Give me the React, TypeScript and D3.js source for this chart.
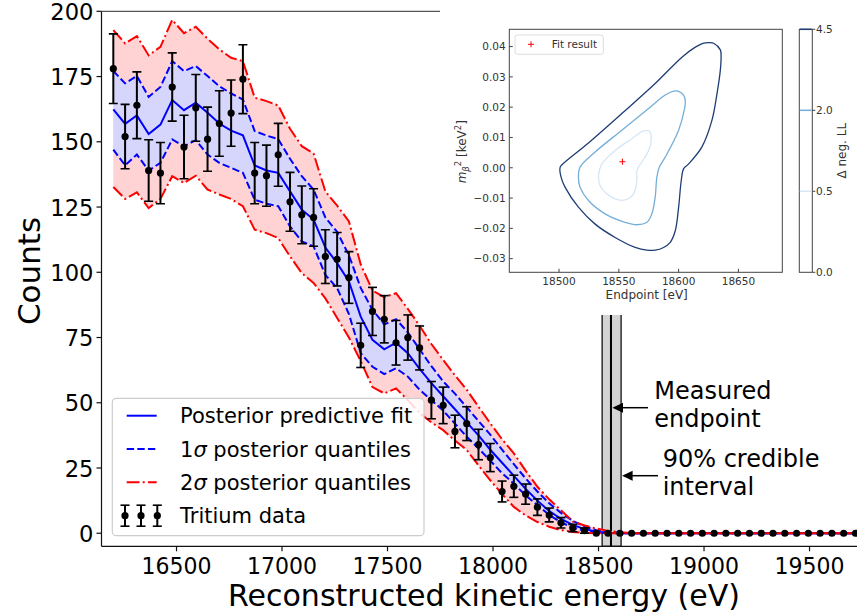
import React from 'react';
import * as d3 from 'd3';

// ---------- data ----------
const BIN_START = 16200.5;
const BIN_WIDTH = 55.83;

const counts = [178, 152, 164, 139, 138, 171, 148, 163, 151, 157, 161, 174, 138, 137, 145, 127, 122, 121, 106, 105,
  98, 72, 85, 82, 73, 75, 71, 51, 49, 39, 42, 34, 29, 16, 18, 15, 10, 7, 4, 2,
  1, 0, 0, 0, 0, 0, 0, 0, 0, 0, 0, 0, 0, 0, 0, 0, 0, 0, 0, 0,
  0, 0, 0, 0];

const fit = [162.4, 156.9, 160.1, 153.0, 156.6, 166.0, 162.1, 165.0, 161.1, 157.0, 154.3, 152.5, 140.9, 139.0, 138.1, 131.0, 124.0, 120.2, 109.5, 103.5,
  96.5, 83.0, 74.1, 70.5, 73.0, 69.0, 63.0, 57.5, 52.5, 47.5, 42.5, 37.5, 32.0, 27.0, 22.0, 17.0, 12.5, 8.5, 5.5, 3.2,
  1.6, 0.6, 0.2, 0, 0, 0, 0, 0, 0, 0, 0, 0, 0, 0, 0, 0, 0, 0, 0, 0,
  0, 0, 0, 0];

const sigma1High = [177.1, 172.4, 175.2, 167.2, 171.0, 180.9, 177.1, 179.0, 175.2, 171.3, 168.5, 166.2, 154.1, 152.4, 151.0, 143.5, 136.8, 131.7, 121.0, 115.5,
  106.5, 94.0, 85.6, 80.0, 82.0, 77.0, 70.5, 64.0, 58.2, 53.5, 48.3, 43.0, 37.8, 32.0, 26.5, 21.0, 16.0, 11.5, 7.8, 4.8,
  2.6, 1.2, 0.5, 0.2, 0, 0, 0, 0, 0, 0, 0, 0, 0, 0, 0, 0, 0, 0, 0, 0,
  0, 0, 0, 0];

const sigma1Low = [147.0, 141.0, 145.1, 139.0, 141.9, 150.9, 148.3, 150.6, 145.1, 141.9, 140.0, 138.1, 127.8, 126.3, 125.3, 117.6, 111.8, 109.9, 99.0, 93.9,
  84.0, 69.0, 63.8, 61.0, 63.2, 60.0, 55.0, 51.0, 47.0, 42.0, 37.0, 32.5, 27.8, 23.0, 19.0, 14.5, 10.8, 7.0, 4.2, 2.2,
  0.9, 0.3, 0.1, 0, 0, 0, 0, 0, 0, 0, 0, 0, 0, 0, 0, 0, 0, 0, 0, 0,
  0, 0, 0, 0];

const sigma2High = [192.8, 187.7, 190.5, 183.1, 186.4, 196.7, 191.6, 194.1, 189.5, 185.4, 182.2, 180.9, 166.9, 165.6, 163.9, 155.0, 148.3, 145.5, 131.0, 125.5,
  119.5, 103.0, 93.0, 90.5, 92.0, 86.0, 79.5, 72.5, 66.4, 60.5, 55.0, 48.5, 42.1, 36.0, 30.6, 24.0, 17.8, 13.0, 8.8, 4.5,
  3.0, 1.8, 0.9, 0.4, 0.1, 0, 0, 0, 0, 0, 0, 0, 0, 0, 0, 0, 0, 0, 0, 0,
  0, 0, 0, 0];

const sigma2Low = [132.7, 128.1, 130.6, 124.6, 128.1, 136.8, 134.2, 137.0, 131.7, 129.8, 128.1, 125.3, 116.3, 115.0, 113.1, 106.1, 99.7, 95.9, 90.0, 82.5,
  75.0, 66.0, 56.0, 53.6, 55.5, 51.0, 46.0, 42.5, 39.5, 35.5, 31.9, 26.0, 20.3, 15.0, 10.1, 6.8, 4.3, 2.5, 1.2, 0.5,
  0.2, 0, 0, 0, 0, 0, 0, 0, 0, 0, 0, 0, 0, 0, 0, 0, 0, 0, 0, 0,
  0, 0, 0, 0];

const xTicks = [16500, 17000, 17500, 18000, 18500, 19000, 19500];
const yTicks = [0, 25, 50, 75, 100, 125, 150, 175, 200];

const endpoint = 18559;
const credibleInterval = [18517, 18607];

// inset data: contour lines of delta neg. log-likelihood [endpoint eV, m^2 keV^2]
const contourLevels = [0.0, 0.5, 2.0, 4.5];
const contourColors = ['#ffffff', '#d6e6f5', '#74afd8', '#1f3d75'];
const contour05 = [[18533, -0.0025], [18535.8, 0.0013], [18546.9, 0.0057], [18560.9, 0.0096], [18570.7, 0.0122], [18575.7, 0.012],
  [18577.1, 0.0091], [18574.9, 0.0057], [18569.3, 0.0019], [18565.1, -0.0009], [18565.1, -0.0042], [18562.3, -0.0086],
  [18555.3, -0.0106], [18546.9, -0.0103], [18538.5, -0.0081], [18534.4, -0.0059]];
const contour20 = [[18516.2, -0.0031], [18517.6, 0.0002], [18530.2, 0.0052], [18552.5, 0.0124], [18574.9, 0.0196], [18588.8, 0.024],
  [18595.8, 0.0253], [18599.4, 0.0253], [18604.2, 0.024], [18605.6, 0.0218], [18605, 0.0196], [18600, 0.0124], [18588.8, 0.0035],
  [18583.8, 0.0002], [18581.8, -0.0031], [18580.4, -0.0097], [18577.6, -0.0152], [18573.5, -0.018], [18565.1, -0.0188],
  [18555.3, -0.018], [18538.5, -0.0152], [18524.6, -0.0108], [18517.6, -0.0064]];
const contour45 = [[18500.8, 0.0], [18502.2, 0.0009], [18524.6, 0.0082], [18552.5, 0.0179], [18580.4, 0.0278], [18602.8, 0.0365],
  [18614, 0.0398], [18620.9, 0.0411], [18626, 0.0413], [18629.3, 0.0411], [18634.9, 0.0389], [18635.5, 0.0367], [18634.9, 0.0323],
  [18632.1, 0.0245], [18627.9, 0.0157], [18619.5, 0.0069], [18608.4, 0.0013], [18604.2, -0.0003], [18602.2, -0.0042],
  [18600, -0.013], [18597.2, -0.0208], [18593, -0.0246], [18587.4, -0.0263], [18580.4, -0.0272], [18573.5, -0.0272],
  [18563.7, -0.0263], [18546.9, -0.023], [18530.2, -0.0186], [18516.2, -0.013], [18505, -0.0064], [18501.7, -0.0031]];
const fitResult = [18553, 0.002];
const insetXTicks = [18500, 18550, 18600, 18650];
const insetYTicks = [-0.03, -0.02, -0.01, 0.0, 0.01, 0.02, 0.03, 0.04];

// ---------- layout ----------
const W = 857;
const H = 613;
const FONT = 'DejaVu Sans';

export default function App() {
  const x = d3.scaleLinear().domain([16144.5, 19725]).range([101.5, 857]);
  const y = d3.scaleLinear().domain([-5, 200]).range([546.3, 11.3]);
  const energies = counts.map((_, i) => BIN_START + i * BIN_WIDTH);

  const area = (lo: number[], hi: number[]) =>
    d3.area<number>().x((_, i) => x(energies[i])).y0((_, i) => y(lo[i])).y1((_, i) => y(hi[i]))(lo) || '';
  const line = (v: number[]) => d3.line<number>().x((_, i) => x(energies[i])).y(d => y(d))(v) || '';

  const [x0, x1] = x.range();
  const [yb, yt] = y.range();

  // inset scales
  const ix = d3.scaleLinear().domain([18458.4, 18686.7]).range([509.3, 782.3]);
  const iy = d3.scaleLinear().domain([-0.0345, 0.0457]).range([272.3, 29.3]);
  const cb = d3.scaleLinear().domain([0, contourLevels.length - 1]).range([272.3, 29.3]);
  const cLine = d3.line<number[]>().x(d => ix(d[0])).y(d => iy(d[1])).curve(d3.curveCatmullRomClosed.alpha(0.5));
  const fmtY = (v: number) => (v < 0 ? '\u2212' : '') + Math.abs(v).toFixed(2);

  const legendRows = [415.7, 449, 482.3, 515.7];

  return (
    <svg width={W} height={H} style={{ position: 'absolute', left: 0, top: 0, background: '#fff' }} fontFamily={FONT}>
      <defs>
        <clipPath id="plotClip">
          <rect x={x0} y={yt} width={x1 - x0} height={yb - yt} />
        </clipPath>
      </defs>
      <rect x={0} y={0} width={W} height={H} fill="#fff" />

      <g clipPath="url(#plotClip)">
        {/* credible interval band */}
        <rect x={x(credibleInterval[0])} y={yt} width={x(endpoint) - x(credibleInterval[0])} height={yb - yt}
          fill="#d3d3d3" stroke="#000" strokeWidth={1.2} />
        <rect x={x(endpoint)} y={yt} width={x(credibleInterval[1]) - x(endpoint)} height={yb - yt}
          fill="#d3d3d3" stroke="#000" strokeWidth={1.2} />
        <line x1={x(endpoint)} x2={x(endpoint)} y1={yt} y2={yb} stroke="#000" strokeWidth={2} />

        {/* quantile bands */}
        <path d={area(sigma2Low, sigma2High)} fill="#ffd3d3" />
        <path d={area(sigma1Low, sigma1High)} fill="#d6d6fd" />
        <path d={line(fit)} fill="none" stroke="#0000ff" strokeWidth={2} />
        <path d={line(sigma1High)} fill="none" stroke="#0000ff" strokeWidth={2} strokeDasharray="7.4,3.2" />
        <path d={line(sigma1Low)} fill="none" stroke="#0000ff" strokeWidth={2} strokeDasharray="7.4,3.2" />
        <path d={line(sigma2High)} fill="none" stroke="#ff0000" strokeWidth={2} strokeDasharray="12.8,3.2,2,3.2" />
        <path d={line(sigma2Low)} fill="none" stroke="#ff0000" strokeWidth={2} strokeDasharray="12.8,3.2,2,3.2" />

        {/* data with Poisson error bars */}
        {counts.map((c, i) => {
          const cx = x(energies[i]);
          const e = Math.sqrt(c);
          return (
            <g key={i}>
              {c > 0 && (
                <g stroke="#000" strokeWidth={2}>
                  <line x1={cx} x2={cx} y1={y(c - e)} y2={y(c + e)} />
                  <line x1={cx - 4.5} x2={cx + 4.5} y1={y(c - e)} y2={y(c - e)} strokeWidth={1.6} />
                  <line x1={cx - 4.5} x2={cx + 4.5} y1={y(c + e)} y2={y(c + e)} strokeWidth={1.6} />
                </g>
              )}
              <circle cx={cx} cy={y(c)} r={3.6} fill="#000" />
            </g>
          );
        })}
      </g>

      {/* axes */}
      <line x1={x0} x2={x0} y1={yt} y2={yb} stroke="#111" strokeWidth={1.2} />
      <line x1={x0} x2={x1} y1={yb} y2={yb} stroke="#111" strokeWidth={1.2} />
      <line x1={x0} x2={x1} y1={yt} y2={yt} stroke="#555" strokeWidth={1.2} />
      {xTicks.map(t => (
        <g key={t}>
          <line x1={x(t)} x2={x(t)} y1={yb} y2={yb + 5} stroke="#111" strokeWidth={1.2} />
          <text x={x(t)} y={573.5} fontSize={23} textAnchor="middle" textLength={70} lengthAdjust="spacingAndGlyphs">{t}</text>
        </g>
      ))}
      {yTicks.map(t => (
        <g key={t}>
          <line x1={x0 - 5} x2={x0} y1={y(t)} y2={y(t)} stroke="#111" strokeWidth={1.2} />
          <text x={93.5} y={y(t) + 8.6} fontSize={23.5} textAnchor="end" textLength={String(t).length * 14.4}
            lengthAdjust="spacingAndGlyphs">{t}</text>
        </g>
      ))}
      <text x={484} y={606} fontSize={29.5} textAnchor="middle" textLength={512} lengthAdjust="spacingAndGlyphs">
        Reconstructed kinetic energy (eV)
      </text>
      <text transform="translate(40,271) rotate(-90)" fontSize={31} textAnchor="middle" textLength={108}
        lengthAdjust="spacingAndGlyphs">Counts</text>

      {/* legend */}
      <rect x={112.3} y={398.3} width={311.7} height={137.4} rx={4} fill="#fff" fillOpacity={0.85} stroke="#cccccc" strokeWidth={1.2} />
      <line x1={126.7} x2={156.7} y1={legendRows[0]} y2={legendRows[0]} stroke="#0000ff" strokeWidth={2} />
      <line x1={126.7} x2={156.7} y1={legendRows[1]} y2={legendRows[1]} stroke="#0000ff" strokeWidth={2} strokeDasharray="7.4,3.2" />
      <line x1={126.7} x2={156.7} y1={legendRows[2]} y2={legendRows[2]} stroke="#ff0000" strokeWidth={2} strokeDasharray="12.8,3.2,2,3.2" />
      {[125, 141, 157.3].map(cx => (
        <g key={cx} stroke="#000">
          <line x1={cx} x2={cx} y1={legendRows[3] - 10.5} y2={legendRows[3] + 10.5} strokeWidth={2} />
          <line x1={cx - 4.5} x2={cx + 4.5} y1={legendRows[3] - 10.5} y2={legendRows[3] - 10.5} strokeWidth={1.6} />
          <line x1={cx - 4.5} x2={cx + 4.5} y1={legendRows[3] + 10.5} y2={legendRows[3] + 10.5} strokeWidth={1.6} />
          <circle cx={cx} cy={legendRows[3]} r={3.6} fill="#000" stroke="none" />
        </g>
      ))}
      <g fontSize={21}>
        <text x={180} y={legendRows[0] + 7.6}>Posterior predictive fit</text>
        <text x={180} y={legendRows[1] + 7.6}>1<tspan fontStyle="italic">σ</tspan> posterior quantiles</text>
        <text x={180} y={legendRows[2] + 7.6}>2<tspan fontStyle="italic">σ</tspan> posterior quantiles</text>
        <text x={180} y={legendRows[3] + 7.6}>Tritium data</text>
      </g>

      {/* annotations */}
      <g fontSize={24}>
        <text x={654.3} y={399}>Measured</text>
        <text x={654.3} y={426.5}>endpoint</text>
        <text x={662.7} y={467}>90% credible</text>
        <text x={662.7} y={494.5}>interval</text>
      </g>
      <line x1={648} x2={620} y1={407.7} y2={407.7} stroke="#000" strokeWidth={1.5} />
      <polygon points={`${x(endpoint) + 1.5},407.7 ${x(endpoint) + 12},402.7 ${x(endpoint) + 12},412.7`} fill="#000" />
      <line x1={658} x2={630} y1={475.7} y2={475.7} stroke="#000" strokeWidth={1.5} />
      <polygon points={`${x(credibleInterval[1]) + 1},475.7 ${x(credibleInterval[1]) + 11.5},470.7 ${x(credibleInterval[1]) + 11.5},480.7`} fill="#000" />

      {/* inset */}
      <rect x={440} y={0} width={W - 440} height={315} fill="#fff" />
      <g fontSize={10.5} fill="#333">
        {[contour45, contour20, contour05].map((c, k) => (
          <path key={k} d={cLine(c) || ''} fill="none" stroke={contourColors[3 - k]} strokeWidth={1.3} />
        ))}
        <rect x={509.3} y={29.3} width={273} height={243} fill="none" stroke="#444" strokeWidth={1} />
        {insetXTicks.map(t => (
          <g key={t}>
            <line x1={ix(t)} x2={ix(t)} y1={272.3} y2={268.8} stroke="#444" />
            <text x={ix(t)} y={285} textAnchor="middle">{t}</text>
          </g>
        ))}
        {insetYTicks.map(t => (
          <g key={t}>
            <line x1={509.3} x2={512.8} y1={iy(t)} y2={iy(t)} stroke="#444" />
            <text x={505.7} y={iy(t) + 3.8} textAnchor="end">{fmtY(t)}</text>
          </g>
        ))}
        <text x={646.7} y={299} fontSize={12} textAnchor="middle">Endpoint [eV]</text>
        <text transform="translate(466,151.7) rotate(-90)" fontSize={12} textAnchor="middle">
          <tspan fontStyle="italic">m</tspan>
          <tspan fontStyle="italic" fontSize={8.5} dy={3}>β</tspan>
          <tspan fontSize={8.5} dy={-8}>2</tspan>
          <tspan dy={5}> [keV</tspan>
          <tspan fontSize={8.5} dy={-5}>2</tspan>
          <tspan dy={5}>]</tspan>
        </text>

        {/* fit result marker + legend */}
        <g stroke="#ff0000" strokeWidth={1}>
          <line x1={ix(fitResult[0]) - 3} x2={ix(fitResult[0]) + 3} y1={iy(fitResult[1])} y2={iy(fitResult[1])} />
          <line x1={ix(fitResult[0])} x2={ix(fitResult[0])} y1={iy(fitResult[1]) - 3} y2={iy(fitResult[1]) + 3} />
        </g>
        <rect x={515} y={35} width={88.3} height={19.3} rx={2.5} fill="#fff" stroke="#dddddd" />
        <g stroke="#ff0000" strokeWidth={1}>
          <line x1={528} x2={534} y1={44.3} y2={44.3} />
          <line x1={531} x2={531} y1={41.3} y2={47.3} />
        </g>
        <text x={551.7} y={48}>Fit result</text>

        {/* colorbar */}
        <rect x={799.3} y={29.3} width={13} height={243} fill="#fff" stroke="#444" />
        {contourLevels.map((lv, k) => (
          <g key={lv}>
            {k > 0 && <line x1={799.8} x2={811.8} y1={cb(k)} y2={cb(k)} stroke={contourColors[k]} strokeWidth={1.5} />}
            <line x1={812.3} x2={815.3} y1={cb(k)} y2={cb(k)} stroke="#444" />
            <text x={816} y={cb(k) + 3.8}>{lv.toFixed(1)}</text>
          </g>
        ))}
        <text transform="translate(846,150.7) rotate(-90)" fontSize={12} textAnchor="middle">Δ neg. LL</text>
      </g>
    </svg>
  );
}
